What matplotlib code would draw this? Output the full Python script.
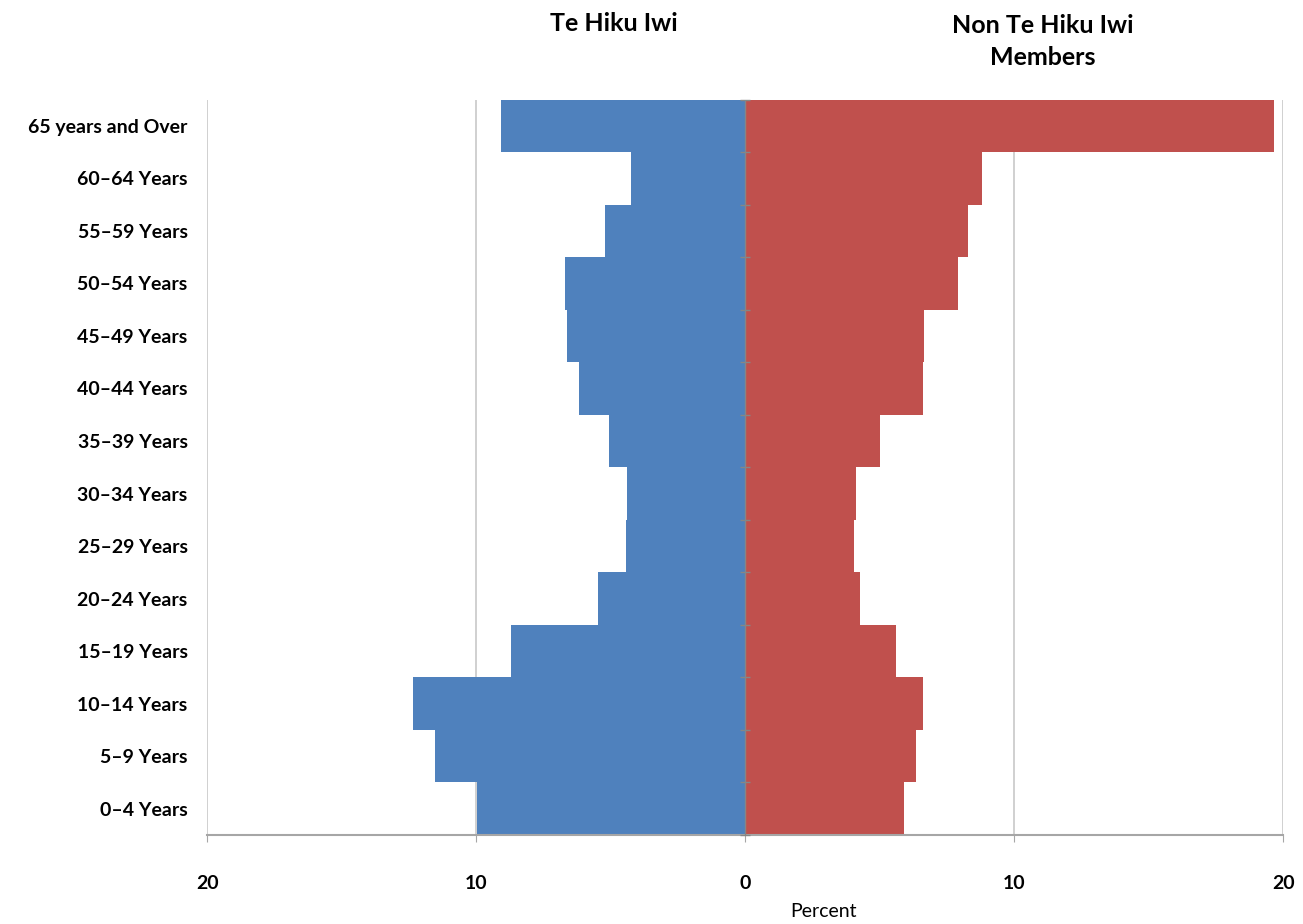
import numpy as np
import matplotlib
matplotlib.use("Agg")
import matplotlib.pyplot as plt

# age groups, bottom to top
age_groups = ["0\u20134 Years", "5\u20139 Years", "10\u201314 Years", "15\u201319 Years",
              "20\u201324 Years", "25\u201329 Years", "30\u201334 Years", "35\u201339 Years",
              "40\u201344 Years", "45\u201349 Years", "50\u201354 Years", "55\u201359 Years",
              "60\u201364 Years", "65 years and Over"]
te_hiku = [9.99, 11.52, 12.34, 8.71, 5.48, 4.43, 4.39, 5.07,
           6.18, 6.62, 6.72, 5.21, 4.26, 9.08]
non_te_hiku = [5.91, 6.33, 6.59, 5.61, 4.27, 4.05, 4.12, 5.01,
               6.60, 6.63, 7.92, 8.29, 8.80, 19.64]
x_ticks = [-20, -10, 0, 10, 20]

BLUE = "#4F81BD"
RED = "#C0504D"
FONT = ["Lato", "DejaVu Sans"]

fig = plt.figure(figsize=(13.03, 9.24), dpi=100)
ax = fig.add_axes([0.159, 0.0963, 0.826, 0.796])

y = np.arange(len(age_groups))
ax.barh(y, [-v for v in te_hiku], height=1.0, color=BLUE, zorder=2)
ax.barh(y, non_te_hiku, height=1.0, color=RED, zorder=2)

ax.set_xlim(-20, 20)
ax.set_ylim(-0.5, len(age_groups) - 0.5)

# gridlines + zero axis
for t in x_ticks:
    if t != 0:
        ax.axvline(t, color="#C8C8C8", linewidth=1.2, zorder=1)
ax.axvline(0, color="#868686", linewidth=1.0, zorder=3)
# small category tick marks on the zero axis
ax.plot(np.zeros(len(age_groups) + 1), np.arange(len(age_groups) + 1) - 0.5,
        marker="_", markersize=7, color="#868686", linestyle="none",
        zorder=3, clip_on=False)

for side in ["top", "right", "left"]:
    ax.spines[side].set_visible(False)
ax.spines["bottom"].set_color("#A6A6A6")
ax.spines["bottom"].set_linewidth(1.5)

ax.set_xticks(x_ticks)
ax.set_xticklabels([str(abs(t)) for t in x_ticks], fontsize=14,
                   fontweight="bold", family=FONT)
ax.tick_params(axis="x", length=5, color="#A6A6A6", pad=24)

ax.set_yticks(y)
ax.set_yticklabels(age_groups, fontsize=14, fontweight="bold", family=FONT)
ax.tick_params(axis="y", length=0, pad=14)

ax.set_xlabel("Percent", fontsize=14, family=FONT)
ax.xaxis.set_label_coords(0.573, -0.092)

fig.text(0.471, 0.975, "Te Hiku Iwi", ha="center", va="center",
         fontsize=18, fontweight="bold", family=FONT)
fig.text(0.80, 0.955, "Non Te Hiku Iwi\nMembers", ha="center", va="center",
         fontsize=18, fontweight="bold", family=FONT, linespacing=1.45)

fig.savefig("out.png", dpi=100, facecolor="white")
